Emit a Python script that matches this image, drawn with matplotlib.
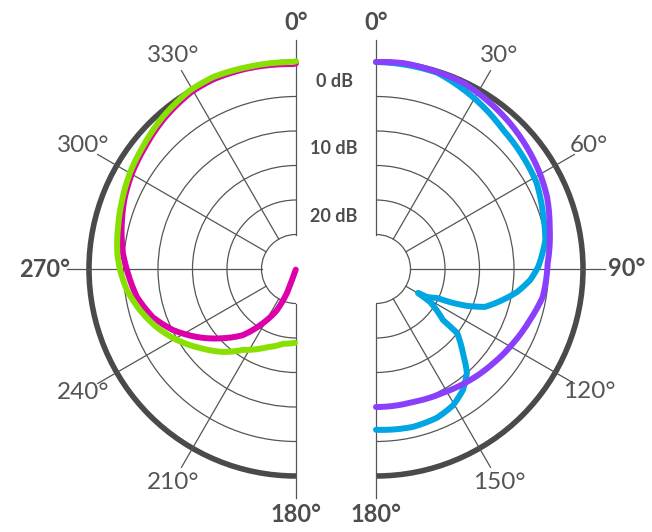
import numpy as np
import matplotlib.pyplot as plt
from matplotlib.patches import Arc

# polar pickup patterns, angle in degrees clockwise from front, level in dB
green_angle = [360, 359.2, 346.4, 336.6, 329.4, 318.8, 308.6, 300, 291.6, 283.3, 275.1,
               269.7, 262.9, 255.3, 247.4, 239.2, 230.5, 221.3, 213.2, 200.4, 189.8, 180.8]
green_db = [0.1, 0.0, 0.1, 0.3, 0.1, -0.7, -1.6, -2.2, -2.9, -3.5, -4.0,
            -4.5, -5.3, -6.6, -8.1, -9.9, -12.0, -14.0, -16.0, -17.9, -19.0, -19.3]

magenta_angle = [360, 359.2, 346.4, 336.6, 329.4, 318.8, 308.6, 300, 291.6, 285.7, 275.3,
                 269.7, 260, 251.4, 243.6, 235.5, 226.6, 218.8, 211.4, 204.9, 200.6, 200, 200]
magenta_db = [-0.2, -0.3, -0.1, 0.0, -0.2, -1.0, -1.9, -2.5, -3.2, -3.8, -4.8,
              -5.5, -6.6, -8.1, -10.1, -12.6, -15.4, -17.7, -20.8, -23.4, -26.3, -28.3, -29.9]

purple_angle = [0, 7.5, 17.2, 25.1, 34.5, 42.5, 51.1, 59.7, 67.2, 76.4, 88,
                99.5, 108.3, 118.4, 128.8, 139.7, 151.6, 164.5, 180]
purple_db = [0.0, 0.1, -0.1, -0.2, -0.8, -1.3, -1.9, -2.5, -3.1, -4.1, -5.1,
             -5.5, -6.5, -7.4, -8.2, -8.9, -9.6, -10.0, -10.0]

cyan_angle = [0, 17.3, 28.4, 42.4, 52.7, 61.9, 71.5, 80.3, 83.5, 89.3, 94.1, 99.3,
              103.7, 109.2, 112.1, 113.8, 115.4, 118.8, 119.7, 121.4, 127.3, 128.3,
              134, 138.8, 144.3, 150.5, 157.7, 166.8, 180]
cyan_db = [0.0, -0.2, -1.3, -2.7, -3.2, -3.6, -4.5, -5.1, -5.6, -6.5, -7.6, -9.3,
           -11.1, -13.3, -15.8, -17.8, -20.2, -21.6, -23.0, -20.8, -17.8, -15.0,
           -12.5, -10.0, -8.4, -7.3, -6.7, -6.5, -6.7]

left_ticks = [0, 330, 300, 270, 240, 210, 180]
right_ticks = [0, 30, 60, 90, 120, 150, 180]
ring_db = [0, -5, -10, -15, -20, -25]
ring_labels = ["0 dB", "10 dB", "20 dB"]

LEFT_CX, RIGHT_CX, CY = 296, 376, 269
R0 = 207.0          # radius of 0 dB in pixels
PX_PER_DB = 6.9
GRID = "#555555"
TEXT = "#4d4d4d"


def to_xy(cx, angle, db):
    r = R0 + np.asarray(db, dtype=float) * PX_PER_DB
    t = np.radians(np.asarray(angle, dtype=float))
    return cx + r * np.sin(t), CY - r * np.cos(t)


def polar_path(angle, db, steps=12):
    # draw segments linearly in (angle, level) like a polar plot does
    a_out, d_out = [], []
    for i in range(len(angle) - 1):
        f = np.linspace(0, 1, steps, endpoint=False)
        a_out.extend(angle[i] + (angle[i + 1] - angle[i]) * f)
        d_out.extend(db[i] + (db[i + 1] - db[i]) * f)
    a_out.append(angle[-1])
    d_out.append(db[-1])
    return np.array(a_out), np.array(d_out)


fig = plt.figure(figsize=(6.52, 5.32), dpi=100)
ax = fig.add_axes([0, 0, 1, 1])
ax.set_xlim(0, 652)
ax.set_ylim(532, 0)
ax.axis("off")

r_hole = R0 + ring_db[-1] * PX_PER_DB
r_spoke = 229

for cx, ticks, (a1, a2) in [(LEFT_CX, left_ticks, (90, 270)), (RIGHT_CX, right_ticks, (-90, 90))]:
    # grid rings
    for db in ring_db[1:]:
        r = R0 + db * PX_PER_DB
        ax.add_patch(Arc((cx, CY), 2 * r, 2 * r, theta1=a1, theta2=a2, color=GRID, lw=0.9))
    # thick outer ring
    ax.add_patch(Arc((cx, CY), 2 * R0, 2 * R0, theta1=a1, theta2=a2, color="#4a4a4a", lw=4.0))
    # spokes and angle labels
    for t in ticks:
        xs, ys = to_xy(cx, [t, t], [(r_hole - R0) / PX_PER_DB, (r_spoke - R0) / PX_PER_DB])
        ax.plot(xs, ys, color=GRID, lw=0.9, zorder=1)
        card = t % 90 == 0
        rl = 251 if t in (90, 270) else 246
        lx, ly = to_xy(cx, t, (rl - R0) / PX_PER_DB)
        ax.text(lx, ly, f"{t}°", ha="center", va="center",
                color=TEXT if card else "#555555",
                fontsize=17 if card else 17.5, fontweight="bold" if card else "normal",
                family="Lato")

# dB labels in the gap
for lab, db in zip(ring_labels, [-2.8, -12.6, -22.4]):
    ax.text((LEFT_CX + RIGHT_CX) / 2 - 2, CY - (R0 + db * PX_PER_DB), lab, ha="center",
            va="center", color=TEXT, fontsize=13, fontweight="bold", family="Lato")

curves = [
    (LEFT_CX, magenta_angle, magenta_db, "#dd00aa", 3),
    (LEFT_CX, green_angle, green_db, "#88e000", 4),
    (RIGHT_CX, cyan_angle, cyan_db, "#00a6e2", 3),
    (RIGHT_CX, purple_angle, purple_db, "#8a3ffc", 4),
]
for cx, ang, db, col, z in curves:
    pa, pd = polar_path(ang, db)
    x, y = to_xy(cx, pa, pd)
    ax.plot(x, y, color=col, lw=4.3, solid_capstyle="round", solid_joinstyle="round", zorder=z)

plt.savefig("out.png", dpi=100)
